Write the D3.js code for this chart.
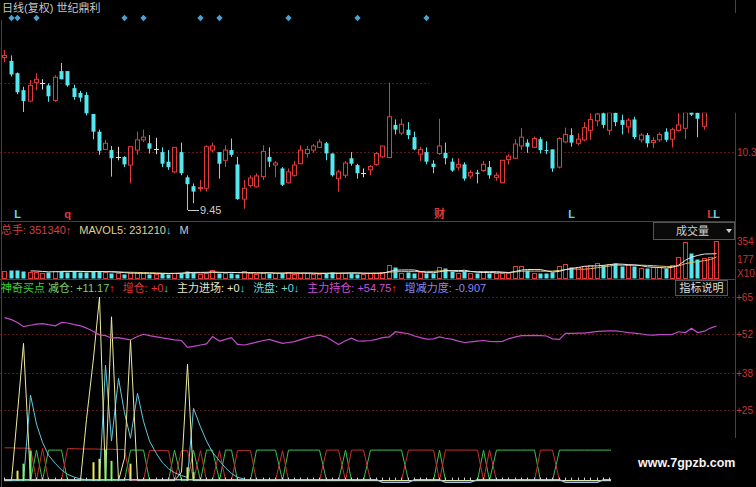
<!DOCTYPE html>
<html><head><meta charset="utf-8">
<script src="https://cdn.jsdelivr.net/npm/d3@7/dist/d3.min.js"></script>
<style>html,body{margin:0;padding:0;background:#000;}svg{display:block}</style>
</head><body>
<svg id="c" width="756" height="487"></svg>
<script>
// ---------- DATA ----------
const opens = [11.69,11.64,11.46,11.21,11.05,11.32,11.31,11.28,11.06,11.49,
11.49,11.24,11.17,11.14,10.86,10.60,10.34,10.33,10.23,10.23,
10.11,10.33,10.48,10.43,10.35,10.30,10.16,10.01,10.30,9.93,
9.80,9.77,9.77,10.33,10.30,10.18,10.33,10.12,9.61,9.81,
9.79,9.94,10.23,10.11,10.06,9.85,9.96,10.13,10.28,10.33,
10.37,10.43,10.28,9.91,9.96,10.21,10.11,10.00,10.04,10.12,
10.23,10.22,10.70,10.58,10.63,10.52,10.27,10.30,10.13,10.28,
10.29,10.16,10.08,10.12,9.95,10.00,10.03,10.08,9.93,9.85,
10.19,10.21,10.39,10.44,10.37,10.49,10.33,10.34,10.08,10.45,
10.55,10.43,10.48,10.62,10.76,10.87,10.62,10.88,10.77,10.67,
10.78,10.48,10.55,10.44,10.48,10.60,10.49,10.62,10.65,10.95,
10.88,10.68,10.92,11.10];
const highs = [11.80,11.72,11.47,11.26,11.36,11.46,11.37,11.31,11.43,11.61,
11.49,11.29,11.20,11.18,10.86,10.63,10.48,10.39,10.38,10.24,
10.38,10.60,10.63,10.55,10.51,10.37,10.33,10.37,10.44,9.96,
9.84,9.89,10.40,10.44,10.30,10.40,10.50,10.23,9.89,9.96,
9.99,10.40,10.37,10.17,10.08,10.06,10.17,10.40,10.39,10.42,
10.49,10.45,10.28,10.04,10.17,10.30,10.13,10.06,10.11,10.30,
10.39,11.32,10.78,10.79,10.74,10.60,10.38,10.37,10.18,10.79,
10.44,10.21,10.21,10.15,10.04,10.04,10.17,10.17,10.00,10.18,
10.27,10.49,10.65,10.49,10.53,10.52,10.46,10.34,10.52,10.66,
10.65,10.58,10.74,10.87,10.88,10.90,10.92,10.95,10.85,10.80,
10.82,10.58,10.58,10.52,10.59,10.65,10.66,10.88,10.95,10.98,
10.95,10.95,11.15,11.45];
const lows = [11.62,11.41,11.15,10.89,11.04,11.21,11.22,11.04,11.04,11.37,
11.26,11.07,11.04,10.84,10.49,10.26,10.33,9.94,10.18,10.08,
9.84,10.26,10.45,10.28,10.27,10.08,10.04,9.99,9.96,9.45,
9.55,9.72,9.72,10.30,9.91,10.08,10.23,9.60,9.47,9.78,
9.78,9.89,10.08,9.93,9.80,9.84,9.94,10.12,10.22,10.29,
10.36,10.18,9.94,9.72,9.92,10.10,9.91,9.93,9.96,10.10,
10.21,10.21,10.56,10.55,10.49,10.33,10.17,10.12,9.99,10.26,
10.12,10.01,10.03,9.88,9.91,9.84,10.01,9.91,9.88,9.85,
10.12,10.20,10.33,10.29,10.36,10.28,10.27,10.01,10.06,10.43,
10.38,10.40,10.46,10.48,10.68,10.65,10.55,10.68,10.56,10.58,
10.49,10.44,10.37,10.36,10.45,10.45,10.37,10.60,10.49,10.83,
10.52,10.63,10.90,11.05];
const closes = [11.72,11.44,11.18,11.05,11.28,11.37,11.31,11.12,11.40,11.37,
11.28,11.11,11.10,10.87,10.60,10.32,10.43,10.21,10.23,10.12,
10.38,10.48,10.52,10.35,10.35,10.13,10.08,10.37,9.99,9.83,
9.72,9.78,10.38,10.39,10.13,10.33,10.26,9.61,9.77,9.92,
9.95,10.31,10.16,10.14,9.82,10.01,10.11,10.33,10.34,10.39,
10.45,10.28,9.96,10.01,10.14,10.13,9.99,10.00,10.09,10.28,
10.39,10.82,10.63,10.71,10.55,10.34,10.34,10.16,10.08,10.39,
10.21,10.03,10.12,9.91,10.00,9.98,10.12,9.96,9.96,10.18,
10.24,10.42,10.52,10.38,10.50,10.33,10.32,10.06,10.50,10.56,
10.44,10.49,10.66,10.78,10.86,10.70,10.88,10.74,10.70,10.77,
10.52,10.55,10.43,10.47,10.56,10.48,10.63,10.70,10.88,10.85,
10.79,10.88,11.10,11.40];
// volume, thousand hands
const volumes = [60,68,70,62,58,55,48,52,66,62,
58,60,52,55,60,64,50,44,40,38,
45,42,40,38,36,42,38,44,48,62,
55,38,48,70,42,46,40,38,60,44,
36,40,48,40,42,50,38,40,46,36,
38,40,52,40,44,48,38,36,40,45,
50,120,100,48,50,45,50,45,42,97,
90,60,45,60,42,45,50,48,44,46,
45,110,115,72,45,42,48,55,110,130,
97,97,110,120,143,120,130,143,110,120,
107,90,90,97,97,90,120,194,340,240,
175,190,200,351.34];
// 主力持仓
const holding = [57.7,57.0,56.0,54.5,55.0,55.4,55.6,55.2,54.8,56.0,
55.8,55.2,54.8,54.0,52.8,51.6,51.3,50.5,50.6,50.2,
49.8,51.0,51.8,51.3,50.9,50.5,50.2,49.8,49.6,47.2,
47.5,48.0,48.4,51.0,49.4,50.0,50.6,48.2,48.0,48.5,
49.0,49.6,50.0,49.3,48.6,48.9,49.2,49.9,50.6,51.1,
51.5,50.8,49.5,48.2,49.5,50.4,49.5,49.4,49.6,50.0,
50.6,50.9,52.7,52.4,52.0,51.2,50.6,50.1,50.2,50.9,
50.4,50.0,49.4,48.9,49.1,49.4,49.6,49.3,49.2,49.3,
50.2,50.9,51.3,51.3,51.4,51.3,51.2,50.2,50.0,52.1,
52.1,52.2,52.2,52.5,52.8,52.9,53.0,53.0,52.7,52.4,
52.2,51.9,51.6,51.5,51.7,51.7,51.8,52.7,52.4,53.9,
52.4,52.9,54.0,54.75];
// 主力进场
const entry = [0,0,24,48.6,0,0,0,0,0,0,
0,0,0,21.7,43.4,65,0,58,0,8,
49.8,0,0,0,0,0,0,0,3,41.2,
0,0,0,0,0,0,0,0,0,0,
0,0,0,0,0,0,0,0,0,0,0,0,0,0,0,0,0,0,0,0,
0,0,0,0,0,0,0,0,0,0,0,0,0,0,0,0,0,0,0,0,
0,0,0,0,0,0,0,0,0,0,0,0,0,0,0,0,0,0,0,0,
0,0,0,0,0,0,0,0,0,0,0,0,0,0];
// 洗盘
const washout = [0,0,0,0,30.3,20,13.5,9,6,3.8,
2.2,1.2,0.6,0.3,0,0,40.9,14,36.2,24,
15,30.9,21,14,9.5,6.3,4.2,2.8,1.8,1.1,
25.6,19,14,10,7,4.5,2.5,1.2,0.5,0,
0,0,0,0,0,0,0,0,0,0,0,0,0,0,0,0,0,0,0,0,
0,0,0,0,0,0,0,0,0,0,0,0,0,0,0,0,0,0,0,0,
0,0,0,0,0,0,0,0,0,0,0,0,0,0,0,0,0,0,0,0,
0,0,0,0,0,0,0,0,0,0,0,0,0,0];
// 减仓 (green)
const reduce = [0,0,0,0,0,10.8,0,10.8,10.8,10.8,
0,0,0,0,0,0,0,0,0,0,
10.8,10.8,10.8,0,0,0,0,10.8,0,0,
10.8,0,10.8,10.8,0,10.8,10.8,0,0,0,
10.8,10.8,10.8,10.8,0,10.8,10.8,10.8,10.8,10.8,
10.8,0,0,0,10.8,0,0,0,10.8,10.8,
10.8,10.8,10.8,10.8,0,0,0,0,0,10.8,
0,0,0,0,0,0,10.8,0,10.8,10.8,
10.8,10.8,10.8,10.8,10.8,0,0,0,10.8,10.8,
10.8,10.8,10.8,10.8,10.8,10.8,10.8,10.8,10.8,10.8,
10.8,10.8,10.8,10.8,10.8,10.8,10.8,10.8,10.8,10.8,
10.8,10.8,10.8,11.17];
// 增仓 (red)
const increase = [11.6,11.6,11.5,11.5,11.4,0,11.4,0,0,0,
11.3,11.3,11.2,11.2,11.2,11.1,11.1,11.1,11.0,11.0,
0,0,0,10.6,10.6,10.6,10.6,0,10.6,10.6,
0,10.6,0,0,10.6,0,0,10.6,10.6,10.6,
0,0,0,0,10.6,0,0,0,0,0,
0,10.8,10.8,10.8,0,10.8,10.8,10.8,0,0,
0,0,0,0,10.8,10.8,10.8,10.8,10.8,0,
10.8,10.8,10.8,10.8,10.8,10.8,0,10.8,0,0,
0,0,0,0,0,10.8,10.8,10.8,0,0,
0,0,0,0,0,0,0,0,0,0,0,0,0,0,0,0,0,0,0,0,
0,0,0,0];
// 神奇买点 sticks
const buyYellow = [0,0,3.5,0,0,0,0,0,0,0, 0,0,0,0,6.5,7.7,0,0,0,0, 6,0,0,0,0,0,0,0,0,4.7];
const buyGreen  = [0,0,0,6,10.6,0,0,0,0,0, 0,0,0,0,0,0,11,7,0,0, 0,0,0,0,0,0,0,0,0,0,3];
// 增减力度
const force = Array.from({length:114},(_,i)=> (i>=60&&i<=64)||(i>=70&&i<=74)||(i>=89&&i<=94) ? -0.6 : 0.3);
force[113] = -0.907;
const signalIdx = [1,2,5,19,22,31,34,45,56,67];
const marks = [{i:2,t:'L',c:'cyan'},{i:10,t:'q',c:'red'},{i:69,t:'财',c:'red'},{i:90,t:'L',c:'cyan'},{i:112,t:'L',c:'red'},{i:113,t:'L',c:'cyan'}];
const priceGrid = [10.30, 11.31];
const priceTicks = ['10.3'];
const volTicks = [354, 177];
const indTicks = [65, 52, 38, 25];
const volLegend = {total:'351340', ma5:'231210'};
const indLegend = {reduce:'+11.17', increase:'+0', entry:'+0', wash:'+0', hold:'+54.75', force:'-0.907'};

// ---------- DRAW ----------
const RED='#e03a3a', CYAN='#55e6ee', AXR='#c83434', GRID='#5c1616';
const FONT="'Liberation Sans','Noto Sans CJK SC',sans-serif";
const svg = d3.select('#c');
svg.append('rect').attr('width',756).attr('height',487).attr('fill','#000');
const N = closes.length;
const x = d3.scaleLinear().domain([0,N-1]).range([4.3, 4.3+6.3*(N-1)]);
const X = i => Math.round(x(i));
const yP = d3.scaleLinear().domain([9.45,11.80]).range([210,50]);
const yV = d3.scaleLinear().domain([0,354]).range([277.5,241]);
const yI = d3.scaleLinear().domain([0,65]).range([480.6,297]);

// grids
svg.selectAll('.pg').data(priceGrid).join('line')
  .attr('x1',0).attr('x2',735).attr('y1',d=>Math.round(yP(d))+0.5).attr('y2',d=>Math.round(yP(d))+0.5)
  .attr('stroke',GRID).attr('stroke-dasharray','2,2');
svg.selectAll('.ig').data(indTicks).join('line')
  .attr('x1',0).attr('x2',735).attr('y1',d=>Math.round(yI(d))+0.5).attr('y2',d=>Math.round(yI(d))+0.5)
  .attr('stroke',GRID).attr('stroke-dasharray','2,2');

// frame lines
const frame = svg.append('g').attr('stroke','#9a1e1e').attr('stroke-width',1);
frame.append('line').attr('x1',1.5).attr('x2',1.5).attr('y1',20).attr('y2',487);
frame.append('line').attr('x1',735.5).attr('x2',735.5).attr('y1',0).attr('y2',487);
frame.append('line').attr('x1',0).attr('x2',735).attr('y1',221.5).attr('y2',221.5);
frame.append('line').attr('x1',0).attr('x2',735).attr('y1',279.5).attr('y2',279.5);

// candles
const data = closes.map((c,i)=>({i,o:opens[i],h:highs[i],l:lows[i],c}));
const col = d => d.c>d.o ? RED : (d.c<d.o ? CYAN : '#dddddd');
const cg = svg.append('g');
cg.selectAll('line.w').data(data).join('line')
  .attr('x1',d=>X(d.i)+0.5).attr('x2',d=>X(d.i)+0.5)
  .attr('y1',d=>yP(d.h)).attr('y2',d=>yP(d.l)).attr('stroke',col);
cg.selectAll('rect.b').data(data.filter(d=>d.c!==d.o)).join('rect')
  .attr('x',d=>X(d.i)-1.5)
  .attr('width',4)
  .attr('y',d=>yP(Math.max(d.o,d.c)))
  .attr('height',d=>Math.max(1,yP(Math.min(d.o,d.c))-yP(Math.max(d.o,d.c))))
  .attr('fill',d=>d.c>d.o?'#000':CYAN)
  .attr('stroke',d=>d.c>d.o?RED:'none');
cg.selectAll('line.dj').data(data.filter(d=>d.c===d.o)).join('line')
  .attr('x1',d=>X(d.i)-2).attr('x2',d=>X(d.i)+3)
  .attr('y1',d=>Math.round(yP(d.c))+0.5).attr('y2',d=>Math.round(yP(d.c))+0.5).attr('stroke','#dddddd');

// low marker
const mi = d3.minIndex(lows);
svg.append('line').attr('x1',X(mi)+1).attr('x2',X(mi)+12).attr('y1',Math.round(yP(lows[mi]))+0.5).attr('y2',Math.round(yP(lows[mi]))+0.5).attr('stroke','#cccccc');
svg.append('text').attr('x',X(mi)+13).attr('y',yP(lows[mi])+4).text(lows[mi].toFixed(2))
  .attr('fill','#cccccc').attr('font-size',11).attr('font-family',FONT);

// marks under candles
svg.selectAll('text.mk').data(marks).join('text')
  .attr('x',d=>X(d.i)+0.5).attr('y',218).attr('text-anchor','middle')
  .attr('font-size',11).attr('font-family',FONT).attr('font-weight','bold')
  .attr('fill',d=>d.c==='red'?'#e03a3a':'#5fd8ee').text(d=>d.t);

// signal diamonds
svg.selectAll('path.dm').data(signalIdx).join('path')
  .attr('d',d3.symbol().type(d3.symbolSquare).size(20))
  .attr('transform',i=>`translate(${X(i)+0.5},18) rotate(45)`)
  .attr('fill','#4aa2d4');

// title
svg.append('text').attr('x',2).attr('y',12).attr('font-size',11).attr('font-family',FONT)
  .attr('fill','#c8c8c8').text('日线(复权)  世纪鼎利');

// volume
const vg = svg.append('g');
vg.selectAll('rect').data(data).join('rect')
  .attr('x',d=>X(d.i)-1.5).attr('width',4)
  .attr('y',d=>Math.round(yV(volumes[d.i]))+0.5)
  .attr('height',d=>Math.max(1,Math.round(yV(0))-Math.round(yV(volumes[d.i]))))
  .attr('fill',d=>d.c>=d.o?'#000':CYAN).attr('stroke',d=>d.c>=d.o?RED:'none');
function ma(arr,n){return arr.map((v,i)=> i<n-1?null:d3.mean(arr.slice(i-n+1,i+1)));}
const ma5 = ma(volumes,5), ma10 = ma(volumes,10);
const vline = d3.line().defined(d=>d!==null).x((d,i)=>X(i)+0.5).y(d=>yV(d));
vg.append('path').datum(ma10).attr('d',vline).attr('fill','none').attr('stroke','#d8c060');
vg.append('path').datum(ma5).attr('d',vline).attr('fill','none').attr('stroke','#e8e8e8');

// volume legend
const vt = svg.append('text').attr('x',1).attr('y',234).attr('font-size',11).attr('font-family',FONT);
vt.append('tspan').attr('fill','#d04040').text('总手: '+volLegend.total);
vt.append('tspan').attr('fill','#ff3a3a').attr('font-weight','bold').text('↑');
vt.append('tspan').attr('fill','#e0d090').attr('dx',8).text('MAVOL5: '+volLegend.ma5);
vt.append('tspan').attr('fill','#40d8f0').attr('font-weight','bold').text('↓');
vt.append('tspan').attr('fill','#cccccc').attr('dx',8).text('M');

// 成交量 box
svg.append('rect').attr('x',653.5).attr('y',222.5).attr('width',81).attr('height',17)
  .attr('fill','#0a0a0a').attr('stroke','#555');
svg.append('text').attr('x',676).attr('y',235).attr('font-size',11).attr('font-family',FONT).attr('fill','#cfcfcf').text('成交量');
svg.append('path').attr('d','M726,229 L732,229 L729,233 Z').attr('fill','#cfcfcf');

// indicator lines
const il = d3.line().x((d,i)=>X(i)+0.5).y(d=>yI(d));
const ig = svg.append('g').attr('fill','none');
ig.append('path').datum(reduce).attr('d',il).attr('stroke','#3cc050');
ig.append('path').datum(increase).attr('d',il).attr('stroke','#c83030');
ig.append('path').datum(washout).attr('d',il).attr('stroke','#62c8e0');
ig.append('path').datum(entry).attr('d',il).attr('stroke','#eeeaa0');
ig.append('path').datum(holding).attr('d',il).attr('stroke','#c04cc8').attr('stroke-width',1.2);
// sticks
svg.selectAll('line.sy').data(buyYellow.map((v,i)=>({v,i})).filter(d=>d.v>0)).join('line')
  .attr('x1',d=>X(d.i)+0.5).attr('x2',d=>X(d.i)+0.5).attr('y1',yI(0)).attr('y2',d=>yI(d.v))
  .attr('stroke','#e8e860').attr('stroke-width',2);
svg.selectAll('line.sg').data(buyGreen.map((v,i)=>({v,i})).filter(d=>d.v>0)).join('line')
  .attr('x1',d=>X(d.i)+0.5).attr('x2',d=>X(d.i)+0.5).attr('y1',yI(0)).attr('y2',d=>yI(d.v))
  .attr('stroke','#80f070').attr('stroke-width',2);
// 增减力度 baseline + ticks
svg.selectAll('line.tk').data(force.map((v,i)=>i)).join('line')
  .attr('x1',i=>X(i)+0.5).attr('x2',i=>X(i)+0.5).attr('y1',yI(0)).attr('y2',yI(0)-3)
  .attr('stroke','#d8d8d8');
ig.append('path').datum(force).attr('d',il).attr('stroke','#9cc4e8').attr('stroke-width',1.3);

// indicator legend
const it = svg.append('text').attr('x',1).attr('y',292).attr('font-size',11).attr('font-family',FONT);
it.append('tspan').attr('fill','#34d034').text('神奇买点 ');
it.append('tspan').attr('fill','#7ccf6c').text('减仓: '+indLegend.reduce);
it.append('tspan').attr('fill','#ff3a3a').attr('font-weight','bold').text('↑');
it.append('tspan').attr('fill','#e03434').attr('dx',8).text('增仓: '+indLegend.increase);
it.append('tspan').attr('fill','#40d8f0').attr('font-weight','bold').text('↓');
it.append('tspan').attr('fill','#e8e8c8').attr('dx',8).text('主力进场: '+indLegend.entry);
it.append('tspan').attr('fill','#40d8f0').attr('font-weight','bold').text('↓');
it.append('tspan').attr('fill','#7fd8d8').attr('dx',8).text('洗盘: '+indLegend.wash);
it.append('tspan').attr('fill','#40d8f0').attr('font-weight','bold').text('↓');
it.append('tspan').attr('fill','#d050d8').attr('dx',8).text('主力持仓: '+indLegend.hold);
it.append('tspan').attr('fill','#ff3a3a').attr('font-weight','bold').text('↑');
it.append('tspan').attr('fill','#8888f0').attr('dx',8).text('增减力度: '+indLegend.force);

// 指标说明 box
svg.append('rect').attr('x',675.5).attr('y',280.5).attr('width',52).attr('height',15)
  .attr('fill','#0a0a0a').attr('stroke','#555');
svg.append('text').attr('x',701.5).attr('y',292).attr('text-anchor','middle').attr('font-size',11).attr('font-family',FONT).attr('fill','#dddddd').text('指标说明');

// overlays (blank areas of the picture)
svg.append('rect').attr('x',429).attr('y',13).attr('width',327).attr('height',99.7).attr('fill','#000');
svg.append('rect').attr('x',611).attr('y',438).attr('width',145).attr('height',49).attr('fill','#000');

// right axis labels
const ax = svg.append('g').attr('font-size',10).attr('font-family',FONT).attr('fill',AXR);
ax.selectAll('text.p').data(priceTicks).join('text').attr('x',737).attr('y',d=>yP(+d)+4).text(d=>d);
ax.selectAll('text.v').data(volTicks).join('text').attr('x',737).attr('y',d=>yV(d)+4).text(d=>d);
ax.append('text').attr('x',737).attr('y',yV(0)-1).text('X10');
ax.selectAll('text.i').data(indTicks).join('text').attr('x',736).attr('y',d=>yI(d)+4).text(d=>'+'+d);

// watermark
svg.append('text').attr('x',638).attr('y',467).attr('font-size',12.5).attr('font-weight','bold')
  .attr('font-family',"'Liberation Sans',Arial,sans-serif").attr('fill','#f4f4f4').text('www.7gpzb.com');
</script>
</body></html>
